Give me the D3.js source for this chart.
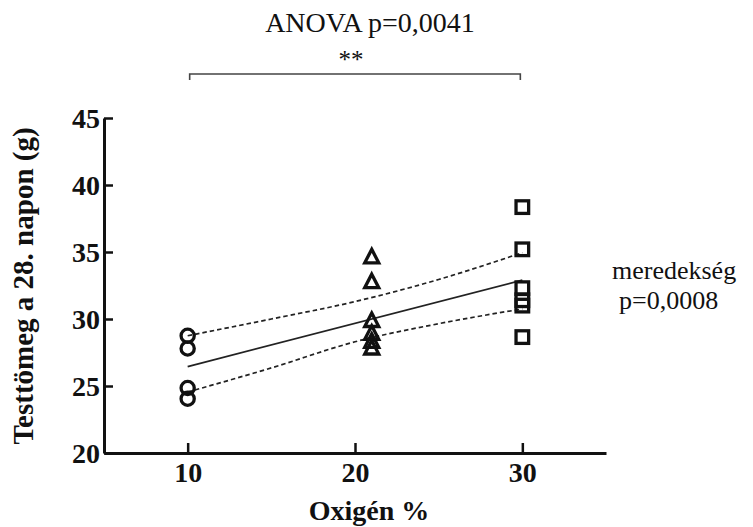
<!DOCTYPE html>
<html>
<head>
<meta charset="utf-8">
<script src="https://cdn.jsdelivr.net/npm/d3@7"></script>
<style>
  body { margin: 0; background: #fff; }
  svg text { font-family: "Liberation Serif", "Times New Roman", serif; fill: #111; }
</style>
</head>
<body>
<svg id="chart" width="753" height="527"></svg>
<script>
// Oxygen groups and body mass readings (g) on day 28
const circleX = 10;
const circleVals = [28.75, 27.8, 24.85, 24.05];
const triangleX = 21;
const triangleVals = [34.6, 32.75, 29.85, 28.9, 28.3, 27.8];
const squareX = 30;
const squareVals = [38.35, 35.2, 32.3, 31.4, 31.0, 28.65];

// Regression line and 95% band
const fitX = [10, 30];
const fitY = [26.45, 32.9];
const bandX = [10, 15, 20, 25, 30];
const bandUpper = [28.75, 30.0, 31.3, 32.95, 34.95];
const bandLower = [24.55, 26.35, 28.3, 29.65, 30.75];

const xTicks = [10, 20, 30];
const yTicks = [20, 25, 30, 35, 40, 45];

const svg = d3.select('#chart');
const margin = { left: 104, top: 118 };
const W = 502, H = 335;

const x = d3.scaleLinear().domain([5, 35]).range([0, W]);
const y = d3.scaleLinear().domain([20, 45]).range([H, 0]);

const g = svg.append('g').attr('transform', `translate(${margin.left},${margin.top})`);

// Axes (ticks point inward)
const xAxis = g.append('g')
    .attr('transform', `translate(0,${H})`)
    .call(d3.axisBottom(x).tickValues(xTicks).tickSizeInner(-10).tickSizeOuter(0).tickPadding(11).tickFormat(d3.format('d')));
const yAxis = g.append('g')
    .call(d3.axisLeft(y).tickValues(yTicks).tickSizeInner(-9).tickSizeOuter(0).tickPadding(4).tickFormat(d3.format('d')));

[xAxis, yAxis].forEach(a => {
    a.select('.domain').attr('stroke', '#111').attr('stroke-width', 3);
    a.selectAll('.tick line').attr('stroke', '#111').attr('stroke-width', 2.5);
    a.selectAll('.tick text')
        .style('font-family', '"Liberation Serif", serif')
        .style('font-weight', 'bold')
        .style('font-size', '28px')
        .attr('fill', '#111');
});
xAxis.selectAll('.tick text').attr('dy', '0.66em');
yAxis.selectAll('.tick text').attr('dy', '0.34em');

// Confidence band and fit line
const line = d3.line().x(d => x(d[0])).y(d => y(d[1])).curve(d3.curveMonotoneX);

g.append('path')
    .datum(bandX.map((v, i) => [v, bandUpper[i]]))
    .attr('d', line)
    .attr('fill', 'none').attr('stroke', '#222').attr('stroke-width', 1.7).attr('stroke-dasharray', '4.5,3');
g.append('path')
    .datum(bandX.map((v, i) => [v, bandLower[i]]))
    .attr('d', line)
    .attr('fill', 'none').attr('stroke', '#222').attr('stroke-width', 1.7).attr('stroke-dasharray', '4.5,3');
g.append('path')
    .datum(fitX.map((v, i) => [v, fitY[i]]))
    .attr('d', d3.line().x(d => x(d[0])).y(d => y(d[1])))
    .attr('fill', 'none').attr('stroke', '#222').attr('stroke-width', 1.7);

// Markers
const markerStyle = sel => sel.attr('fill', 'none').attr('stroke', '#111').attr('stroke-width', 3.3);

g.selectAll('.pt-circle')
    .data(circleVals)
    .join('circle')
    .attr('class', 'pt-circle')
    .attr('cx', x(circleX))
    .attr('cy', d => y(d))
    .attr('r', 6.6)
    .call(markerStyle);

const triPath = 'M0,-8L7,5.5L-7,5.5Z';
g.selectAll('.pt-tri')
    .data(triangleVals)
    .join('path')
    .attr('class', 'pt-tri')
    .attr('d', triPath)
    .attr('transform', d => `translate(${x(triangleX)},${y(d)})`)
    .attr('stroke-linejoin', 'miter')
    .call(markerStyle);

g.selectAll('.pt-sq')
    .data(squareVals)
    .join('rect')
    .attr('class', 'pt-sq')
    .attr('x', x(squareX) - 6.3)
    .attr('y', d => y(d) - 6.3)
    .attr('width', 12.6)
    .attr('height', 12.6)
    .call(markerStyle);

// Significance bracket
const bracketY = 74;
svg.append('path')
    .attr('d', `M${margin.left + x(10) + 2},${bracketY + 6}V${bracketY}H${margin.left + x(30) - 2}V${bracketY + 6}`)
    .attr('fill', 'none').attr('stroke', '#444').attr('stroke-width', 1.6);
svg.append('text')
    .attr('x', margin.left + x(20) - 4).attr('y', 68)
    .attr('text-anchor', 'middle')
    .style('font-size', '25px')
    .text('**');
svg.append('text')
    .attr('x', 370).attr('y', 32)
    .attr('text-anchor', 'middle')
    .style('font-size', '28px')
    .text('ANOVA p=0,0041');

// Slope annotation
svg.append('text').attr('x', 612).attr('y', 279).style('font-size', '26px').text('meredekség');
svg.append('text').attr('x', 619).attr('y', 309).style('font-size', '26px').text('p=0,0008');

// Axis titles
svg.append('text')
    .attr('transform', `translate(33,286) rotate(-90)`)
    .attr('text-anchor', 'middle')
    .style('font-size', '29px').style('font-weight', 'bold')
    .text('Testtömeg a 28. napon (g)');
svg.append('text')
    .attr('x', margin.left + x(20) + 14).attr('y', 520)
    .attr('text-anchor', 'middle')
    .style('font-size', '28px').style('font-weight', 'bold')
    .text('Oxigén %');
</script>
</body>
</html>
